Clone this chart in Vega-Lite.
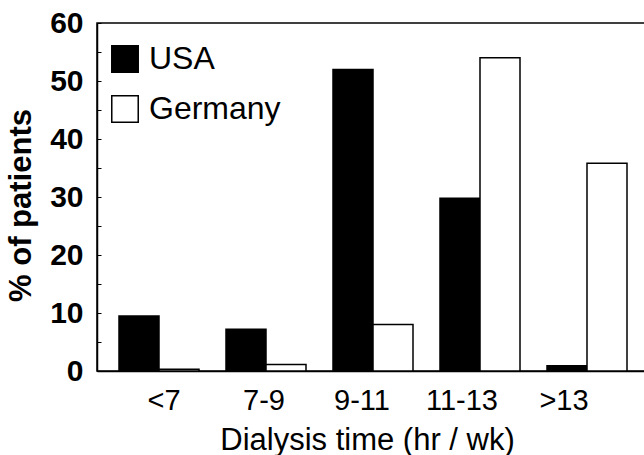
{
  "$schema": "https://vega.github.io/schema/vega-lite/v6.json",
  "width": 552,
  "height": 348,
  "autosize": "none",
  "padding": {"left": 97, "top": 23, "right": 0, "bottom": 84},
  "background": "white",
  "view": {"stroke": "black", "strokeWidth": 1.5},
  "config": {"font": "Liberation Sans"},
  "data": {
    "values": [
      {"time": "<7", "country": "USA", "pct": 9.5},
      {"time": "<7", "country": "Germany", "pct": 0.3},
      {"time": "7-9", "country": "USA", "pct": 7.2},
      {"time": "7-9", "country": "Germany", "pct": 1.1},
      {"time": "9-11", "country": "USA", "pct": 52},
      {"time": "9-11", "country": "Germany", "pct": 8},
      {"time": "11-13", "country": "USA", "pct": 29.8},
      {"time": "11-13", "country": "Germany", "pct": 54},
      {"time": ">13", "country": "USA", "pct": 0.9},
      {"time": ">13", "country": "Germany", "pct": 35.8}
    ]
  },
  "mark": {"type": "bar", "stroke": "black", "strokeWidth": 1.5},
  "encoding": {
    "x": {
      "field": "time",
      "type": "nominal",
      "sort": ["<7", "7-9", "9-11", "11-13", ">13"],
      "scale": {"paddingInner": 0.2523, "paddingOuter": 0.2056},
      "axis": {
        "title": "Dialysis time (hr / wk)",
        "titleFontSize": 31,
        "titleFontWeight": "normal",
        "titleColor": "black",
        "titlePadding": 10,
        "titleX": 270,
        "labelFontSize": 29,
        "labelColor": "black",
        "labelAngle": 0,
        "labelPadding": 15,
        "labelOffset": {"expr": "datum.value=='<7'?5:datum.value=='7-9'?-2:datum.value=='9-11'?-11:datum.value=='11-13'?-18:-23"},
        "ticks": false,
        "domainColor": "black",
        "domainWidth": 1.5
      }
    },
    "xOffset": {
      "field": "country",
      "type": "nominal",
      "sort": ["USA", "Germany"],
      "scale": {"paddingInner": 0, "paddingOuter": 0}
    },
    "y": {
      "field": "pct",
      "type": "quantitative",
      "scale": {"domain": [0, 60], "nice": false},
      "axis": {
        "title": "% of patients",
        "titleFontSize": 31,
        "titleFontWeight": "bold",
        "titleColor": "black",
        "titlePadding": 12,
        "titleY": 182,
        "values": [0, 5, 10, 15, 20, 25, 30, 35, 40, 45, 50, 55, 60],
        "labelExpr": "datum.value % 10 == 0 ? datum.label : ''",
        "labelFontSize": 30,
        "labelFontWeight": "bold",
        "labelColor": "black",
        "labelPadding": 18,
        "tickSize": -4,
        "tickColor": "black",
        "tickWidth": 1,
        "grid": false,
        "domainColor": "black",
        "domainWidth": 1.5
      }
    },
    "fill": {
      "field": "country",
      "type": "nominal",
      "sort": ["USA", "Germany"],
      "scale": {"domain": ["USA", "Germany"], "range": ["black", "white"]},
      "legend": {
        "title": null,
        "orient": "none",
        "legendX": 12,
        "legendY": 20,
        "symbolType": "square",
        "symbolSize": 700,
        "symbolStrokeColor": "black",
        "symbolStrokeWidth": 1.5,
        "labelFontSize": 32,
        "labelColor": "black",
        "labelOffset": 8,
        "rowPadding": 16
      }
    }
  }
}
